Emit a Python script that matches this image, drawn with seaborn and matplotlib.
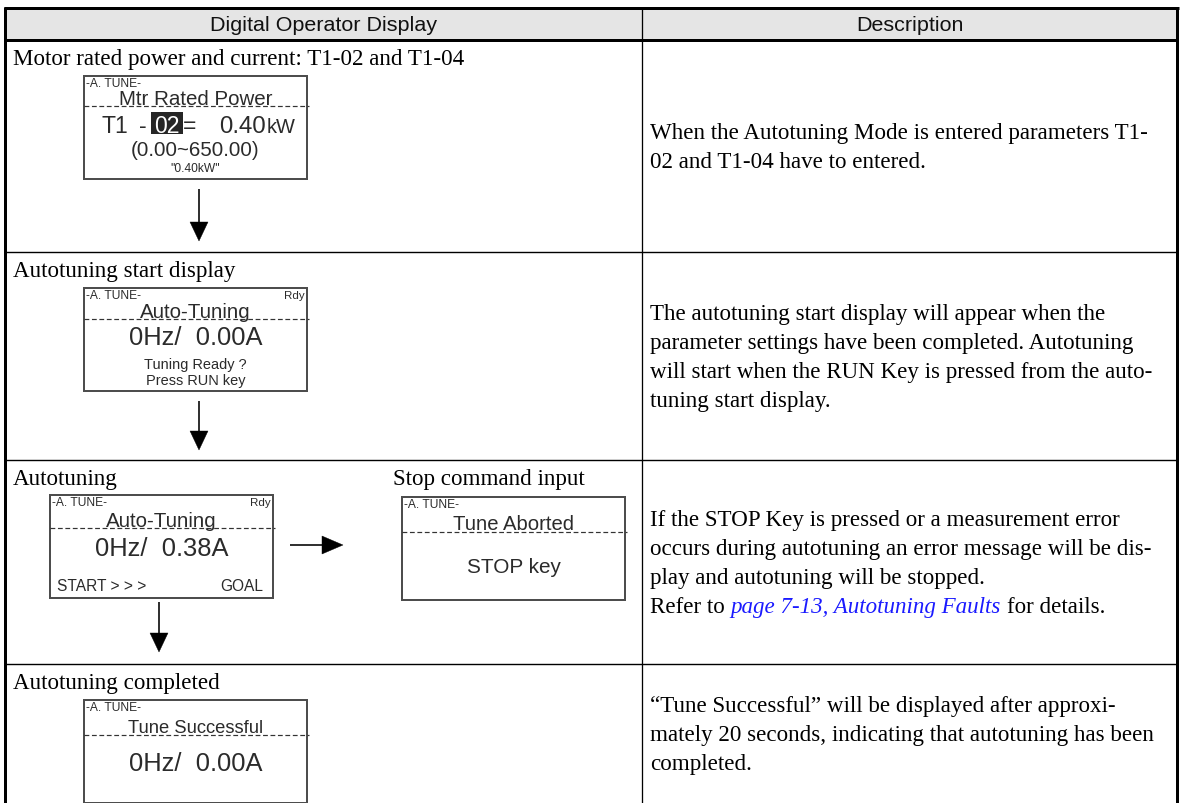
import matplotlib
matplotlib.use("Agg")
import matplotlib.pyplot as plt
from matplotlib.patches import Rectangle, Polygon
import seaborn as sns

# ---------------- content ----------------
header_labels = ["Digital Operator Display", "Description"]
row_labels = ["Motor rated power and current: T1-02 and T1-04",
              "Autotuning start display",
              "Autotuning",
              "Autotuning completed"]
side_label = "Stop command input"
desc_lines = [
    ["When the Autotuning Mode is entered parameters T1-",
     "02 and T1-04 have to entered."],
    ["The autotuning start display will appear when the",
     "parameter settings have been completed. Autotuning",
     "will start when the RUN Key is pressed from the auto-",
     "tuning start display."],
    ["If the STOP Key is pressed or a measurement error",
     "occurs during autotuning an error message will be dis-",
     "play and autotuning will be stopped.",
     "Refer to page 7-13, Autotuning Faults for details."],
    ["\u201cTune Successful\u201d will be displayed after approxi-",
     "mately 20 seconds, indicating that autotuning has been",
     "completed."],
]
link_text = "page 7-13, Autotuning Faults"
lcd_tag = "-A. TUNE-"
lcd_ready_tag = "Rdy"
lcd_titles = ["Mtr Rated Power", "Auto-Tuning", "Auto-Tuning", "Tune Aborted", "Tune Successful"]
lcd_has_ready = [False, True, True, False, False]
param_group = "T1"
param_number = "02"
param_value = "0.40"
param_unit = "kW"
param_range = "(0.00~650.00)"
param_default = "\"0.40kW\""
lcd_readouts = ["0Hz/  0.00A", "0Hz/  0.38A", "STOP key", "0Hz/  0.00A"]
prompt_lines = ["Tuning Ready ?", "Press RUN key"]
progress_labels = ["START > > >", "GOAL"]

# ---------------- style ----------------
sns.set_theme(style="white")
SANS = ["Liberation Sans", "DejaVu Sans"]
SERIF = ["Liberation Serif", "DejaVu Serif"]
plt.rcParams["font.family"] = SANS
LCD_INK = "#2b2b2b"

W, H = 1180, 804
fig = plt.figure(figsize=(W / 100, H / 100), dpi=100)
fig.patch.set_facecolor("white")
ax = fig.add_axes([0, 0, 1, 1])
ax.set_xlim(0, W)
ax.set_ylim(H, 0)
ax.axis("off")
renderer = fig.canvas.get_renderer()


def pt(p):
    return p * 0.72


def put(x, y, s, size, fam=SANS, ha="left", color="black", style="normal"):
    return ax.text(x, y, s, fontsize=pt(size), family=fam, ha=ha, va="baseline",
                   color=color, style=style)


def hline(x0, x1, y, lw, color="black", ls="-"):
    ax.plot([x0, x1], [y, y], color=color, lw=pt(lw), ls=ls,
            solid_capstyle="butt", dash_capstyle="butt")


def vline(x, y0, y1, lw, color="black"):
    ax.plot([x, x], [y0, y1], color=color, lw=pt(lw), solid_capstyle="butt")


def arrow_down(x, y0, y1):
    vline(x, y0, y1 - 15, 1.6)
    ax.add_patch(Polygon([(x - 9, y1 - 19), (x + 9, y1 - 19), (x, y1)],
                         closed=True, fc="black", ec="black", lw=0.3))


def arrow_right(y, x0, x1):
    hline(x0, x1 - 15, y, 1.6)
    ax.add_patch(Polygon([(x1 - 21, y - 9), (x1 - 21, y + 9), (x1, y)],
                         closed=True, fc="black", ec="black", lw=0.3))


# ---------------- table frame ----------------
TX0, TX1, TY0 = 5, 1177, 9
COLX = 642
HEAD_Y = 40.5
row_edges = [HEAD_Y, 253, 461, 665, H]

ax.add_patch(Rectangle((TX0, TY0), TX1 - TX0, HEAD_Y - TY0, fc="#e5e5e5", ec="none"))
for yy in row_edges[1:-1]:
    hline(TX0, TX1, yy, 1.4)
vline(COLX, TY0, H, 1.3)
hline(TX0 - 1.5, TX1 + 1.5, TY0, 3)
hline(TX0, TX1, HEAD_Y, 3)
vline(TX0, TY0 - 1.5, H, 3)
vline(TX1, TY0 - 1.5, H, 3)

put((TX0 + COLX) / 2, 31, header_labels[0], 21.5, ha="center", color="#111111")
put((COLX + TX1) / 2, 31, header_labels[1], 21.5, ha="center", color="#111111")

# ---------------- left column labels ----------------
SERIF_PX = 23
for i, lab in enumerate(row_labels):
    put(13, row_edges[i] + 24, lab, SERIF_PX, fam=SERIF)
put(393, row_edges[2] + 24, side_label, SERIF_PX, fam=SERIF)

# ---------------- descriptions ----------------
LINE_H = 28.8
DX = 650
space_w = 0.25 * SERIF_PX
for i, lines in enumerate(desc_lines):
    yc = (row_edges[i] + row_edges[i + 1]) / 2 + 6.5
    n = len(lines)
    for j, line in enumerate(lines):
        yb = yc + (j - (n - 1) / 2) * LINE_H
        if link_text in line:
            pre, post = line.split(link_text)
            t1 = put(DX, yb, pre.rstrip(), SERIF_PX, fam=SERIF)
            x = t1.get_window_extent(renderer).x1 + space_w
            t2 = put(x, yb, link_text, SERIF_PX, fam=SERIF, color="#1a1aff", style="italic")
            x = t2.get_window_extent(renderer).x1 + space_w
            put(x, yb, post.strip(), SERIF_PX, fam=SERIF)
        else:
            put(DX, yb, line, SERIF_PX, fam=SERIF)

# ---------------- LCD displays ----------------
LCD_W, LCD_H = 223, 103
lcd_pos = [(84, 77), (84, 289), (50, 496), (402, 498), (84, 701)]
dash_off = [30, 31, 33, 35, 35]
title_base = [28, 29, 31, 32, 32]
title_px = [20.5, 20.5, 20.5, 20.3, 18.4]


def lcd_box(k):
    x0, y0 = lcd_pos[k]
    ax.add_patch(Rectangle((x0, y0), LCD_W, LCD_H, fill=False, ec="#4d4d4d", lw=pt(2.0)))
    hline(x0, x0 + LCD_W + 2, y0 + dash_off[k], 1.2, color="#333333", ls=(0, (4, 2.2)))
    put(x0 + 2.5, y0 + 10, lcd_tag, 12, color=LCD_INK)
    if lcd_has_ready[k]:
        put(x0 + LCD_W - 2, y0 + 10, lcd_ready_tag, 11.5, ha="right", color=LCD_INK)
    put(x0 + LCD_W / 2, y0 + title_base[k], lcd_titles[k], title_px[k], ha="center", color=LCD_INK)
    return x0, y0


for k in range(5):
    lcd_box(k)

# box 1: parameter entry
x0, y0 = lcd_pos[0]
put(x0 + 18, y0 + 56, param_group, 23, color=LCD_INK)
put(x0 + 55, y0 + 56, "-", 23, color=LCD_INK)
ax.add_patch(Rectangle((x0 + 67, y0 + 36), 32, 22, fc="#262626", ec="none"))
put(x0 + 83, y0 + 56, param_number, 23, ha="center", color="white")
put(x0 + 99, y0 + 56, "=", 23, color=LCD_INK)
put(x0 + 135, y0 + 56, param_value, 24, color=LCD_INK)
put(x0 + 183, y0 + 56, param_unit, 20, color=LCD_INK)
put(x0 + LCD_W / 2, y0 + 79, param_range, 20.5, ha="center", color=LCD_INK)
put(x0 + LCD_W / 2, y0 + 95, param_default, 12, ha="center", color=LCD_INK)

# box 2: start display
x0, y0 = lcd_pos[1]
put(x0 + LCD_W / 2, y0 + 56, lcd_readouts[0], 25.5, ha="center", color=LCD_INK)
put(x0 + LCD_W / 2, y0 + 80, prompt_lines[0], 14.5, ha="center", color=LCD_INK)
put(x0 + LCD_W / 2, y0 + 96, prompt_lines[1], 14.5, ha="center", color=LCD_INK)

# box 3: tuning in progress
x0, y0 = lcd_pos[2]
put(x0 + LCD_W / 2, y0 + 60, lcd_readouts[1], 25.5, ha="center", color=LCD_INK)
put(x0 + 7, y0 + 95, progress_labels[0], 15.5, color=LCD_INK)
put(x0 + 213, y0 + 95, progress_labels[1], 15.5, ha="right", color=LCD_INK)

# box 4: aborted
x0, y0 = lcd_pos[3]
put(x0 + LCD_W / 2, y0 + 75, lcd_readouts[2], 20.8, ha="center", color=LCD_INK)

# box 5: successful
x0, y0 = lcd_pos[4]
put(x0 + LCD_W / 2, y0 + 70, lcd_readouts[3], 25.5, ha="center", color=LCD_INK)

# ---------------- arrows ----------------
arrow_down(199, 190, 242)
arrow_down(199, 402, 451)
arrow_down(159, 603, 653)
arrow_right(546, 290, 343)

fig.savefig("out.png", dpi=100, facecolor="white")
